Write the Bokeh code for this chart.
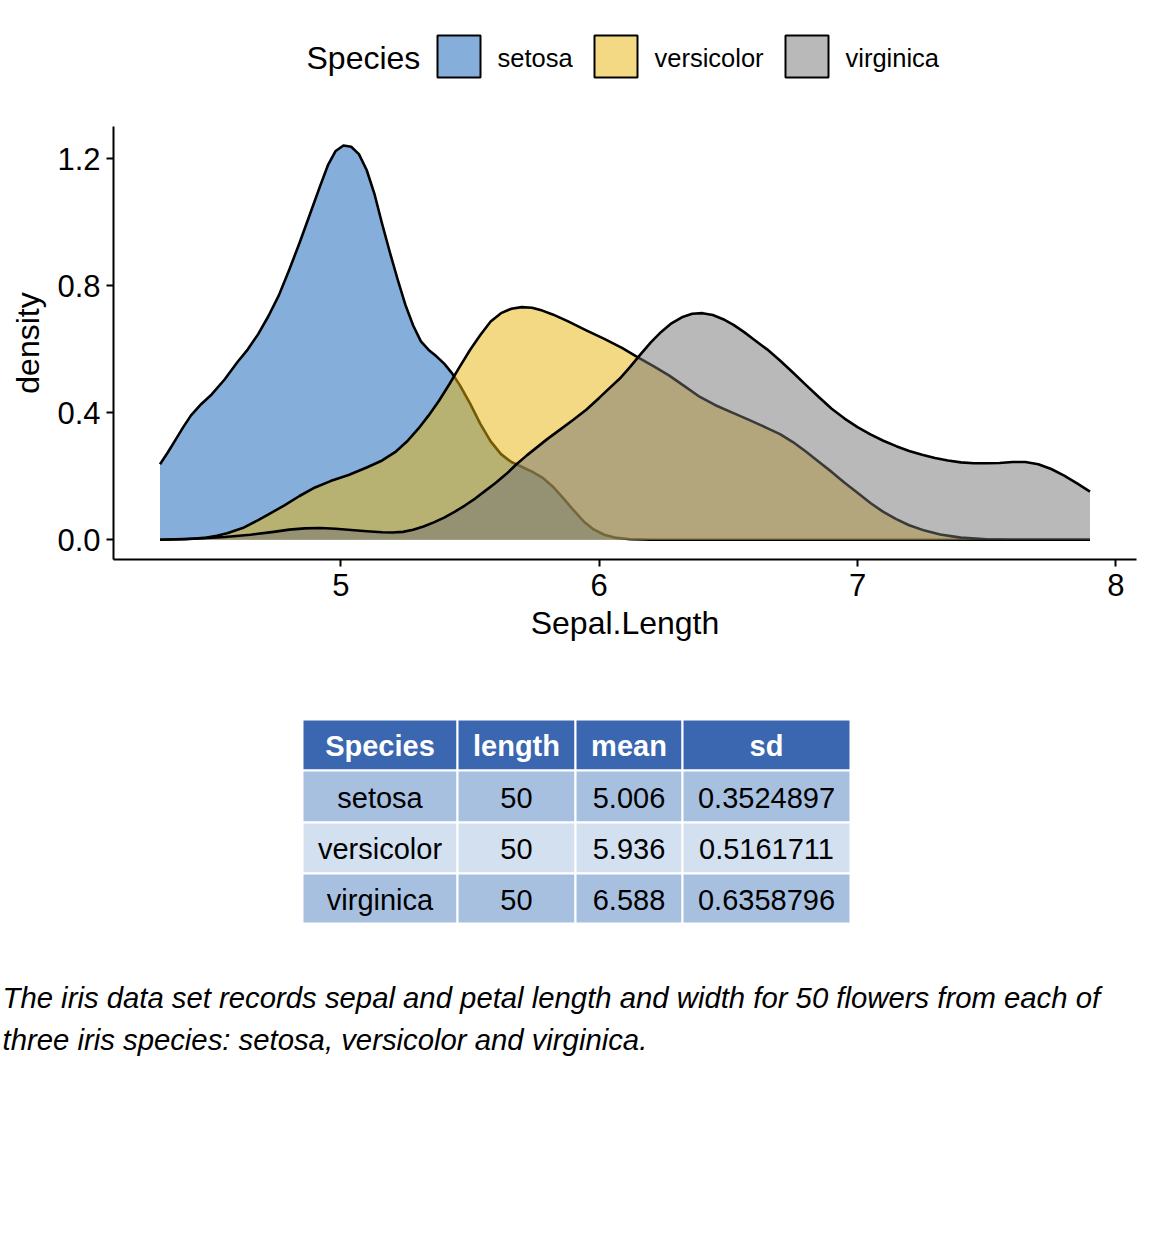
from bokeh.plotting import figure
from bokeh.models import Range1d, NumeralTickFormatter
from bokeh.core.properties import value
from bokeh.embed import file_html
from bokeh.resources import INLINE

FONT = "Liberation Sans"

# ---- density curves of Sepal.Length per species ----
setosa_x = [4.30, 4.33, 4.36, 4.39, 4.42, 4.46, 4.50, 4.55, 4.60, 4.64, 4.68, 4.72, 4.76,
            4.80, 4.84, 4.88, 4.92, 4.95, 4.98, 5.01, 5.04, 5.07, 5.10, 5.13, 5.16, 5.19,
            5.22, 5.25, 5.28, 5.31, 5.34, 5.37, 5.40, 5.43, 5.46, 5.50, 5.54, 5.58, 5.62,
            5.66, 5.70, 5.74, 5.78, 5.82, 5.86, 5.90, 5.94, 5.98, 6.02, 6.06, 6.12, 6.20,
            7.90]
setosa_d = [0.238, 0.275, 0.315, 0.355, 0.392, 0.428, 0.458, 0.505, 0.560, 0.600, 0.648,
            0.705, 0.770, 0.850, 0.935, 1.025, 1.115, 1.180, 1.225, 1.242, 1.238, 1.215,
            1.165, 1.090, 0.995, 0.905, 0.820, 0.740, 0.675, 0.625, 0.598, 0.578, 0.555,
            0.525, 0.488, 0.430, 0.365, 0.310, 0.270, 0.245, 0.230, 0.215, 0.196, 0.168,
            0.132, 0.094, 0.058, 0.032, 0.016, 0.007, 0.002, 0.0, 0.0]

versicolor_x = [4.30, 4.40, 4.47, 4.52, 4.56, 4.62, 4.68, 4.72, 4.78, 4.84, 4.90, 4.96,
                5.03, 5.10, 5.16, 5.21, 5.26, 5.30, 5.34, 5.38, 5.42, 5.46, 5.50, 5.54,
                5.58, 5.62, 5.66, 5.70, 5.74, 5.78, 5.82, 5.88, 5.95, 6.02, 6.09, 6.15,
                6.21, 6.27, 6.33, 6.39, 6.45, 6.52, 6.58, 6.65, 6.70, 6.75, 6.80, 6.85,
                6.90, 6.95, 7.00, 7.05, 7.10, 7.15, 7.20, 7.26, 7.32, 7.40, 7.50, 7.60, 7.90]
versicolor_d = [0.0, 0.002, 0.006, 0.013, 0.021, 0.037, 0.062, 0.080, 0.108, 0.138, 0.165,
                0.185, 0.204, 0.228, 0.250, 0.276, 0.313, 0.350, 0.392, 0.438, 0.490, 0.545,
                0.598, 0.645, 0.688, 0.714, 0.728, 0.733, 0.731, 0.722, 0.710, 0.688, 0.660,
                0.633, 0.604, 0.575, 0.547, 0.518, 0.484, 0.450, 0.424, 0.399, 0.378, 0.352,
                0.333, 0.308, 0.278, 0.246, 0.214, 0.180, 0.148, 0.116, 0.088, 0.065, 0.046,
                0.029, 0.017, 0.007, 0.002, 0.0, 0.0]

virginica_x = [4.30, 4.45, 4.55, 4.65, 4.74, 4.80, 4.86, 4.92, 4.98, 5.04, 5.10, 5.16,
               5.20, 5.24, 5.28, 5.32, 5.36, 5.40, 5.44, 5.48, 5.52, 5.56, 5.60, 5.64,
               5.68, 5.72, 5.76, 5.80, 5.85, 5.90, 5.95, 6.00, 6.04, 6.08, 6.12, 6.16,
               6.20, 6.24, 6.28, 6.32, 6.36, 6.40, 6.44, 6.48, 6.52, 6.56, 6.60, 6.65,
               6.70, 6.75, 6.80, 6.85, 6.90, 6.95, 7.00, 7.05, 7.10, 7.15, 7.20, 7.25,
               7.30, 7.35, 7.40, 7.45, 7.50, 7.55, 7.60, 7.65, 7.70, 7.75, 7.80, 7.85, 7.90]
virginica_d = [0.0, 0.004, 0.009, 0.016, 0.025, 0.032, 0.036, 0.037, 0.035, 0.031, 0.027,
               0.024, 0.023, 0.025, 0.032, 0.042, 0.055, 0.070, 0.088, 0.108, 0.130, 0.155,
               0.180, 0.207, 0.238, 0.266, 0.292, 0.318, 0.348, 0.378, 0.410, 0.447, 0.478,
               0.508, 0.545, 0.584, 0.622, 0.655, 0.682, 0.701, 0.712, 0.714, 0.708, 0.695,
               0.677, 0.655, 0.630, 0.600, 0.565, 0.527, 0.488, 0.450, 0.413, 0.382, 0.355,
               0.332, 0.312, 0.295, 0.280, 0.268, 0.258, 0.250, 0.244, 0.241, 0.241, 0.242,
               0.245, 0.245, 0.238, 0.223, 0.202, 0.178, 0.152]

species = ["setosa", "versicolor", "virginica"]
fills = ["#0D5DB5", "#E7B309", "#737373"]
legend_swatches = ["#86AEDA", "#F3D984", "#B9B9B9"]

# ---- summary table ----
tbl_header = ["Species", "length", "mean", "sd"]
tbl_length = [50, 50, 50]
tbl_mean = [5.006, 5.936, 6.588]
tbl_sd = [0.3524897, 0.5161711, 0.6358796]

caption_lines = [
    "The iris data set records sepal and petal length and width for 50 flowers from each of",
    "three iris species: setosa, versicolor and virginica.",
]

W = 1152


def blank(height):
    f = figure(width=W, height=height, x_range=Range1d(0, W), y_range=Range1d(height, 0),
               output_backend="svg", toolbar_location=None,
               x_axis_location=None, y_axis_location=None, min_border=0)
    f.outline_line_color = None
    f.grid.visible = False
    f.background_fill_color = "white"
    f.border_fill_color = "white"
    return f


# ---- legend strip ----
leg = blank(100)
leg.text(x=[306], y=[57], text=["Species"], text_font=value(FONT),
         text_font_size=value("32px"), text_align="left", text_baseline="middle",
         text_color="black")
box_left = [437, 594, 785]
box_w, box_h, row_y = 43, 42, 56
leg.rect(x=[b + box_w / 2 for b in box_left], y=[row_y] * 3, width=box_w, height=box_h,
         fill_color=legend_swatches, line_color="black", line_width=2)
leg.text(x=[b + box_w + 17 for b in box_left], y=[row_y + 1] * 3, text=species,
         text_font=value(FONT), text_font_size=value("25.5px"), text_align="left",
         text_baseline="middle", text_color="black")

# ---- density plot ----
p = figure(width=W, height=560, x_range=Range1d(4.12, 8.08), y_range=Range1d(-0.062, 1.302),
           output_backend="svg", toolbar_location=None,
           min_border_left=113, min_border_right=16, min_border_top=26, min_border_bottom=101,
           x_axis_label="Sepal.Length", y_axis_label="density")
p.outline_line_color = None
p.grid.visible = False
p.background_fill_color = "white"
p.border_fill_color = "white"

for xs, ds, col in [(setosa_x, setosa_d, fills[0]),
                    (versicolor_x, versicolor_d, fills[1]),
                    (virginica_x, virginica_d, fills[2])]:
    p.varea(x=xs, y1=[0] * len(xs), y2=ds, fill_color=col, fill_alpha=0.5)
    p.line(x=xs, y=ds, line_color="black", line_width=2.6, line_join="round")

p.xaxis.ticker = [5, 6, 7, 8]
p.yaxis.ticker = [0, 0.4, 0.8, 1.2]
p.yaxis.formatter = NumeralTickFormatter(format="0.0")
for ax in (p.xaxis, p.yaxis):
    ax.axis_line_width = 2
    ax.axis_line_color = "black"
    ax.major_tick_line_width = 2
    ax.major_tick_line_color = "black"
    ax.major_tick_in = 0
    ax.major_tick_out = 7
    ax.minor_tick_line_color = None
    ax.major_label_text_font = FONT
    ax.major_label_text_font_size = "31px"
    ax.major_label_text_color = "black"
    ax.axis_label_text_font = FONT
    ax.axis_label_text_font_size = "32px"
    ax.axis_label_text_font_style = "normal"
    ax.axis_label_text_color = "black"
p.xaxis.major_label_standoff = 7
p.yaxis.major_label_standoff = 6
p.xaxis.axis_label_standoff = 6
p.yaxis.axis_label_standoff = 8

# ---- table and caption ----
bot = blank(588)
top0 = 660
col_edges = [302, 457, 575, 682, 850]
row_edges = [719, 770, 822, 873, 923]
row_fill = ["#3A67B0", "#A8C0E0", "#D3E0F0", "#A8C0E0"]

cells = [tbl_header] + [[s, str(n), "%.3f" % m, "%.7f" % sd]
                        for s, n, m, sd in zip(species, tbl_length, tbl_mean, tbl_sd)]
for r in range(4):
    y0, y1 = row_edges[r] - top0, row_edges[r + 1] - top0
    xs = [(col_edges[c] + col_edges[c + 1]) / 2 for c in range(4)]
    ws = [col_edges[c + 1] - col_edges[c] for c in range(4)]
    bot.rect(x=xs, y=[(y0 + y1) / 2] * 4, width=ws, height=y1 - y0,
             fill_color=row_fill[r], line_color="white", line_width=2)
    bot.text(x=xs, y=[(y0 + y1) / 2 + 1] * 4, text=cells[r], text_font=value(FONT),
             text_font_size=value("29px"), text_align="center", text_baseline="middle",
             text_color="white" if r == 0 else "black",
             text_font_style="bold" if r == 0 else "normal")

bot.text(x=[2, 2], y=[997 - top0, 1039 - top0], text=caption_lines, text_font=value(FONT),
         text_font_size=value("29.3px"), text_font_style="italic", text_align="left",
         text_baseline="middle", text_color="black")

# three independent roots stacked on the page, each keeping its own frame
open("out.html", "w").write(file_html([leg, p, bot], INLINE))
